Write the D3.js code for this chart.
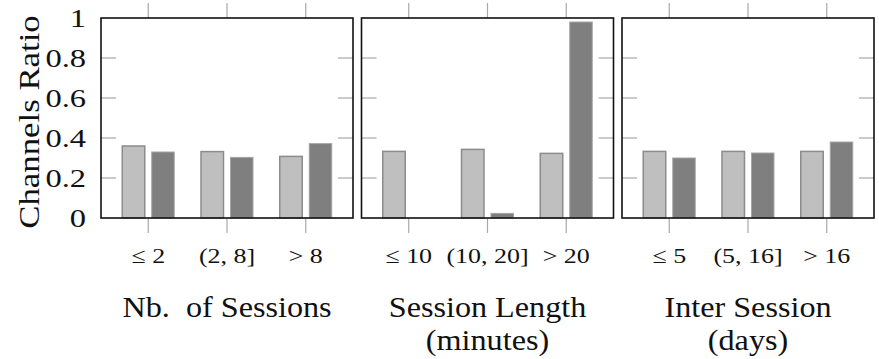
<!DOCTYPE html>
<html>
<head>
<meta charset="utf-8">
<script src="https://cdn.jsdelivr.net/npm/d3@7"></script>
<style>
  body { margin: 0; background: #fff; }
  svg { display: block; }
</style>
</head>
<body>
<svg id="chart"></svg>
<script>
var width = 879;
var height = 359;
var serif = "'Liberation Serif', 'DejaVu Serif', serif";

// panel titles (second line optional)
var panelTitles = [
  ["Nb.  of Sessions"],
  ["Session Length", "(minutes)"],
  ["Inter Session", "(days)"]
];
var panelCategories = [
  ["\u2264 2", "(2, 8]", "> 8"],
  ["\u2264 10", "(10, 20]", "> 20"],
  ["\u2264 5", "(5, 16]", "> 16"]
];
// light grey series
var lightValues = [
  [0.36, 0.332, 0.308],
  [0.333, 0.343, 0.323],
  [0.333, 0.333, 0.333]
];
// dark grey series
var darkValues = [
  [0.33, 0.303, 0.372],
  [0, 0.023, 0.98],
  [0.30, 0.325, 0.38]
];
var yTicks = [0, 0.2, 0.4, 0.6, 0.8, 1];
var yLabel = "Channels Ratio";

var svg = d3.select("#chart").attr("width", width).attr("height", height);

var panelW = 252;
var panelLeft = [101, 361.5, 622];
var plotTop = 18, plotBottom = 218;

var yScale = d3.scaleLinear().domain([0, 1]).range([plotBottom, plotTop]);

var series = d3.scaleBand().domain(["light", "dark"]).range([-26, 26]).paddingInner(0.237);

// text that is a little wider than the font draws it (the LaTeX look)
function label(sel, txt, x, y, size, sx, anchor) {
  return sel.append("text")
    .attr("transform", "translate(" + x + "," + y + ") scale(" + sx + ",1)")
    .attr("text-anchor", anchor || "middle")
    .attr("font-family", serif).attr("font-size", size)
    .attr("fill", "#111")
    .style("white-space", "pre")
    .text(txt);
}

for (var p = 0; p < 3; p++) {
  var x0 = panelLeft[p];
  var g = svg.append("g");
  var cats = panelCategories[p];

  var xScale = d3.scalePoint()
    .domain(cats)
    .range([x0, x0 + panelW])
    .padding(0.6);

  // y ticks inside, both sides
  yTicks.slice(1, -1).forEach(function (t) {
    g.append("line").attr("x1", x0).attr("x2", x0 + 15)
      .attr("y1", yScale(t)).attr("y2", yScale(t))
      .attr("stroke", "#a8a8a8").attr("stroke-width", 1.2);
    g.append("line").attr("x1", x0 + panelW - 15).attr("x2", x0 + panelW)
      .attr("y1", yScale(t)).attr("y2", yScale(t))
      .attr("stroke", "#a8a8a8").attr("stroke-width", 1.2);
  });

  // x ticks outside, top and bottom
  cats.forEach(function (c) {
    g.append("line").attr("x1", xScale(c)).attr("x2", xScale(c))
      .attr("y1", plotTop - 15).attr("y2", plotTop)
      .attr("stroke", "#a8a8a8").attr("stroke-width", 1.2);
    g.append("line").attr("x1", xScale(c)).attr("x2", xScale(c))
      .attr("y1", plotBottom).attr("y2", plotBottom + 15)
      .attr("stroke", "#a8a8a8").attr("stroke-width", 1.2);
  });

  // bars
  g.selectAll(".light").data(lightValues[p]).enter().append("rect")
    .attr("x", function (d, i) { return xScale(cats[i]) + series("light"); })
    .attr("y", function (d) { return yScale(d); })
    .attr("width", series.bandwidth())
    .attr("height", function (d) { return yScale(0) - yScale(d); })
    .attr("fill", "#bfbfbf").attr("stroke", "#8c8c8c").attr("stroke-width", 1.5);
  g.selectAll(".dark").data(darkValues[p]).enter().append("rect")
    .attr("x", function (d, i) { return xScale(cats[i]) + series("dark"); })
    .attr("y", function (d) { return yScale(d); })
    .attr("width", series.bandwidth())
    .attr("height", function (d) { return yScale(0) - yScale(d); })
    .attr("fill", "#7f7f7f").attr("stroke", "#a6a6a6").attr("stroke-width", 1)
    .attr("display", function (d) { return d > 0 ? null : "none"; });

  // frame
  g.append("rect").attr("x", x0).attr("y", plotTop)
    .attr("width", panelW).attr("height", plotBottom - plotTop)
    .attr("fill", "none").attr("stroke", "#111").attr("stroke-width", 1.6);

  // tick labels
  cats.forEach(function (c) {
    label(g, c, xScale(c), 263, 22, 1.18);
  });

  // titles
  panelTitles[p].forEach(function (t, k) {
    label(g, t, x0 + panelW / 2, 317 + k * 33, 29, 1.11);
  });
}

// y tick labels on the first panel
yTicks.forEach(function (t) {
  label(svg, t, 86, yScale(t) + 8.5, 25, 1.3, "end");
});

svg.append("text")
  .attr("transform", "translate(39,122) rotate(-90) scale(1.16,1)")
  .attr("text-anchor", "middle")
  .attr("font-family", serif).attr("font-size", 30)
  .attr("fill", "#111")
  .text(yLabel);
</script>
</body>
</html>
